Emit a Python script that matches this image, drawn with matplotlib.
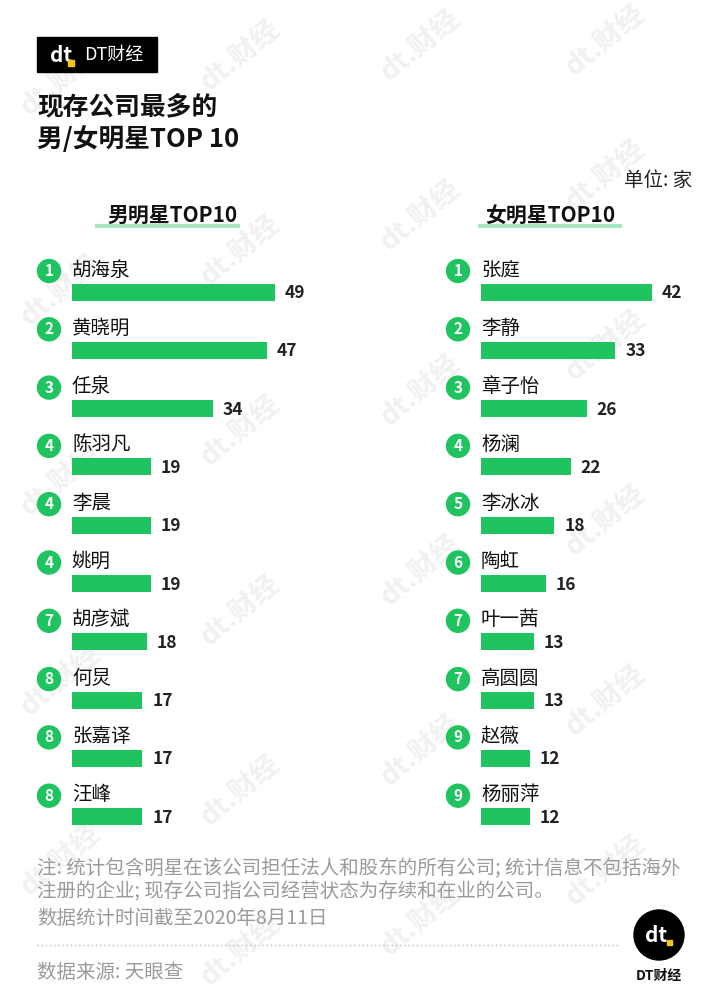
import matplotlib.pyplot as plt
from matplotlib.patches import Rectangle, Circle

plt.rcParams['font.family'] = ['Noto Sans CJK SC', 'DejaVu Sans']

# DATOS
male_names = ["胡海泉", "黄晓明", "任泉", "陈羽凡", "李晨", "姚明", "胡彦斌", "何炅", "张嘉译", "汪峰"]
male_rank = [1, 2, 3, 4, 4, 4, 7, 8, 8, 8]
male_vals = [49, 47, 34, 19, 19, 19, 18, 17, 17, 17]

female_names = ["张庭", "李静", "章子怡", "杨澜", "李冰冰", "陶虹", "叶一茜", "高圆圆", "赵薇", "杨丽萍"]
female_rank = [1, 2, 3, 4, 5, 6, 7, 7, 9, 9]
female_vals = [42, 33, 26, 22, 18, 16, 13, 13, 12, 12]

GREEN = '#1fc35f'
GRAY = '#9a9a9a'

W, H = 720, 1000
fig = plt.figure(figsize=(W / 100, H / 100), dpi=100)
fig.patch.set_facecolor('white')

# fondo en pixeles
bg = fig.add_axes([0, 0, 1, 1])
bg.set_xlim(0, W)
bg.set_ylim(H, 0)
bg.axis('off')

# marcas de agua
for cx, cy in [(60, 80), (240, 55), (420, 45), (605, 40), (60, 290), (240, 250), (420, 215), (605, 175),
               (60, 480), (240, 430), (420, 390), (605, 345), (60, 680), (240, 610), (420, 570), (605, 520),
               (60, 860), (240, 790), (420, 750), (605, 700), (240, 950), (420, 920), (605, 870)]:
    bg.text(cx, cy, "dt.财经", fontsize=20, fontweight='bold', color='#f1f1f1',
            rotation=40, ha='center', va='center', zorder=0)

# logo superior
bg.add_patch(Rectangle((37, 37), 120, 35, color='black', zorder=2))
bg.text(50, 55, "dt", color='white', fontsize=15, fontweight='bold', ha='left', va='center', zorder=3)
bg.add_patch(Rectangle((68, 60), 6, 6, color='#f5c518', zorder=3))
bg.text(84, 55, "DT财经", color='white', fontsize=13, ha='left', va='center', zorder=3)

# titulo
bg.text(37, 107, "现存公司最多的", fontsize=18.5, fontweight='bold', ha='left', va='center', color='#111111')
bg.text(37, 140, "男/女明星TOP 10", fontsize=18.5, fontweight='bold', ha='left', va='center', color='#111111')
bg.text(692, 180, "单位: 家", fontsize=14, ha='right', va='center', color='#222222')


def panel(x0, scale, names, ranks, vals, header, hx, ux0, ux1):
    # encabezado de seccion
    bg.plot([ux0, ux1], [226, 226], color='#a8e6c2', lw=3, solid_capstyle='butt', zorder=1)
    bg.text(hx, 215, header, fontsize=15, fontweight='bold', ha='center', va='center', color='#111111', zorder=2)

    width_px = 250
    ax = fig.add_axes([x0 / W, 0, width_px / W, 1])
    ax.set_xlim(0, width_px / scale)
    ax.set_ylim(H, 0)
    ax.axis('off')
    ax.patch.set_alpha(0)

    ys = [292 + i * 58.3 for i in range(len(vals))]
    ax.barh(ys, vals, height=17, color=GREEN, zorder=2)
    for y, v, n, r in zip(ys, vals, names, ranks):
        ax.text(v + 10 / scale, y + 1, str(v), fontsize=12.5, fontweight='bold',
                ha='left', va='center', color='#222222')
        ax.text(0, y - 22, n, fontsize=14, ha='left', va='center', color='#111111')
        bg.add_patch(Circle((x0 - 23, y - 21), 11.5, color=GREEN, zorder=3))
        bg.text(x0 - 23, y - 21, str(r), fontsize=11, fontweight='bold', color='white',
                ha='center', va='center', zorder=4)


panel(72, 4.14, male_names, male_rank, male_vals, "男明星TOP10", 172, 95, 240)
panel(481, 4.07, female_names, female_rank, female_vals, "女明星TOP10", 550, 478, 622)

# notas
bg.text(37, 869, "注: 统计包含明星在该公司担任法人和股东的所有公司; 统计信息不包括海外",
        fontsize=14, color=GRAY, ha='left', va='center')
bg.text(37, 892, "注册的企业; 现存公司指公司经营状态为存续和在业的公司。",
        fontsize=14, color=GRAY, ha='left', va='center')
bg.text(37, 918, "数据统计时间截至2020年8月11日", fontsize=14, color=GRAY, ha='left', va='center')
bg.plot([37, 620], [945, 945], color='#bbbbbb', lw=1, ls=(0, (1, 2)))
bg.text(37, 972, "数据来源: 天眼查", fontsize=14, color=GRAY, ha='left', va='center')

# logo inferior
bg.add_patch(Circle((659, 935), 25, color='black', zorder=2))
bg.text(656, 935, "dt", color='white', fontsize=15, fontweight='bold', ha='center', va='center', zorder=3)
bg.add_patch(Rectangle((667, 940), 5, 5, color='#f5c518', zorder=3))
bg.text(659, 976, "DT财经", fontsize=10, fontweight='bold', ha='center', va='center', color='#111111')

fig.savefig("out.png", dpi=100, facecolor='white')
